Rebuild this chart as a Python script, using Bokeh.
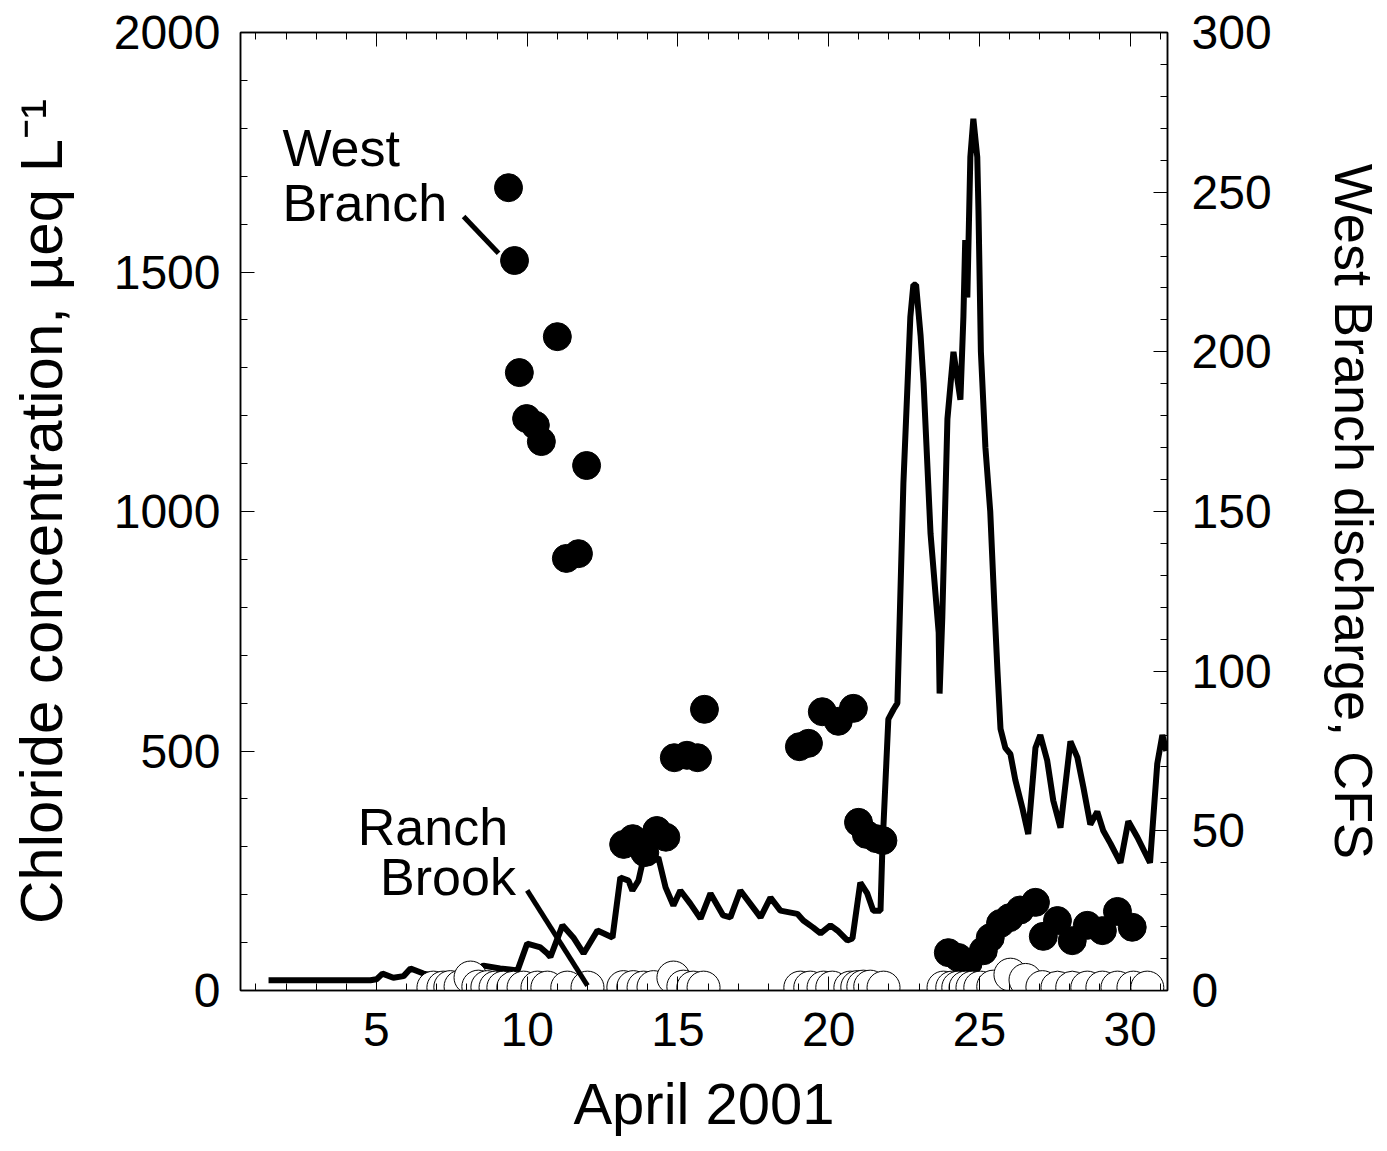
from bokeh.plotting import figure
from bokeh.models import Range1d, LinearAxis, SingleIntervalTicker, Label
from bokeh.embed import file_html
from bokeh.resources import INLINE

# West Branch discharge (CFS), day of April 2001
q_day = [1.42, 4.8, 5.0, 5.2, 5.56, 5.9, 6.13, 6.56, 7.0, 7.5, 8.0, 8.55, 9.1, 9.68,
         10.0, 10.44, 10.67, 10.77, 11.17, 11.53, 11.87, 12.33, 12.83, 13.09, 13.36,
         13.49, 13.69, 13.82, 14.1, 14.35, 14.59, 14.85, 15.08, 15.41, 15.75, 16.08,
         16.5, 16.74, 17.07, 17.74, 18.07, 18.4, 18.96, 19.16, 19.49, 19.73, 20.06,
         20.29, 20.62, 20.79, 21.05, 21.28, 21.48, 21.72, 21.78, 21.98, 22.15, 22.28,
         22.48, 22.71, 22.81, 22.9, 23.05, 23.15, 23.38, 23.65, 23.68, 23.77, 23.94,
         24.14, 24.37, 24.47, 24.53, 24.6, 24.7, 24.8, 24.93, 24.97, 25.05, 25.2,
         25.36, 25.5, 25.6, 25.7, 25.86, 26.03, 26.19, 26.43, 26.62, 26.86, 27.02,
         27.25, 27.45, 27.69, 28.02, 28.25, 28.45, 28.68, 28.91, 29.11, 29.35, 29.68,
         29.94, 30.24, 30.66, 30.9, 31.07, 31.2]
q_cfs = [3.2, 3.2, 3.5, 5.3, 4.0, 4.5, 6.9, 5.3, 4.5, 4.2, 4.5, 7.8, 6.9, 6.3,
         14.7, 13.5, 11.6, 10.5, 20.4, 16.6, 11.6, 18.8, 16.6, 35.4, 34.4,
         31.3, 34.4, 39.8, 40.0, 41.7, 32.3, 26.6, 31.3, 27.2, 22.5, 30.4,
         23.5, 22.9, 31.3, 22.9, 29.1, 25.0, 24.0, 21.9, 19.7, 17.9, 20.4,
         18.8, 15.7, 16.3, 33.8, 30.4, 25.0, 25.0, 43.8, 85.0, 88.0, 90.0,
         159.0, 211.0, 221.0, 221.0, 205.0, 190.0, 143.0, 112.0, 93.0, 117.0, 179.0,
         200.0, 185.0, 211.0, 235.0, 217.0, 261.0, 273.0, 261.0, 244.0, 200.0, 170.0,
         150.0, 120.0, 100.0, 82.0, 76.0, 74.0, 66.0, 57.0, 49.0, 76.0, 80.0,
         72.0, 59.5, 51.0, 78.0, 73.0, 63.6, 52.0, 56.0, 50.0, 46.0, 40.0,
         53.0, 48.0, 40.0, 71.0, 80.0, 75.0]

# West Branch chloride (ueq/L)
wb_day = [9.38, 9.58, 9.74, 9.98, 10.27, 10.47, 11.0, 11.30, 11.70, 11.97,
          13.2, 13.5, 13.9, 14.3, 14.6, 14.88, 15.3, 15.65, 15.88,
          19.03, 19.33, 19.79, 20.32, 20.82, 20.99, 21.25, 21.58, 21.8,
          23.97, 24.3, 24.63, 25.13, 25.36, 25.7, 26.0, 26.35, 26.86,
          27.12, 27.59, 28.08, 28.58, 29.08, 29.58, 30.07]
wb_cl = [1676, 1524, 1290, 1194, 1180, 1146, 1365, 902, 912, 1096,
         305, 317, 288, 334, 320, 486, 491, 486, 587,
         509, 516, 582, 562, 589, 351, 326, 317, 313,
         79, 69, 58, 83, 110, 140, 152, 168, 184,
         113, 146, 104, 136, 125, 165, 132]

# Ranch Brook chloride (ueq/L)
rb_day = [6.89, 7.22, 7.45, 7.79, 8.12, 8.38, 8.68, 8.95, 9.21, 9.54, 9.88, 10.34,
          10.67, 11.33, 12.0, 13.19, 13.52, 13.86, 14.19, 14.85, 15.18, 15.51, 15.85,
          19.06, 19.39, 19.83, 20.12, 20.72, 20.95, 21.15, 21.38, 21.82,
          23.81, 24.10, 24.30, 24.54, 24.77, 25.03, 25.46, 26.03, 26.53,
          27.09, 27.59, 28.08, 28.58, 29.08, 29.58, 30.11, 30.57]
rb_cl = [6, 6, 7, 8, 27, 8, 7, 6, 6, 6, 6, 6,
         6, 6, 6, 7, 7, 6, 7, 27, 8, 6, 6,
         6, 6, 6, 6, 6, 7, 8, 8, 6,
         6, 6, 6, 6, 6, 6, 8, 33, 22,
         7, 6, 6, 6, 6, 6, 6, 6]

FONT = "Liberation Sans"

p = figure(width=1386, height=1150, output_backend="svg", toolbar_location=None,
           x_range=Range1d(0.49, 31.24), y_range=Range1d(0, 2000),
           min_border_left=240, min_border_right=219, min_border_top=32,
           min_border_bottom=160)
p.extra_y_ranges = {"q": Range1d(0, 300)}
p.grid.visible = False
p.outline_line_color = "black"
p.outline_line_width = 1.5
p.background_fill_color = "white"
p.border_fill_color = "white"

p.line(q_day, q_cfs, y_range_name="q", line_width=6, line_color="black")
p.scatter(wb_day, wb_cl, size=28, fill_color="black", line_color="black")
p.scatter(rb_day, rb_cl, size=33, fill_color="white", line_color="black", line_width=1)


def style(ax, show_labels=True):
    ax.axis_line_color = "black"
    ax.axis_line_width = 1.5
    ax.major_tick_in = 14
    ax.major_tick_out = 0
    ax.minor_tick_in = 7
    ax.minor_tick_out = 0
    ax.major_tick_line_color = "black"
    ax.minor_tick_line_color = "black"
    ax.major_label_text_font = FONT
    ax.major_label_text_font_size = "48px"
    ax.major_label_text_color = "black" if show_labels else None
    ax.axis_label_text_font = FONT
    ax.axis_label_text_font_style = "normal"
    ax.axis_label_text_color = "black"


xax = p.xaxis[0]
xax.ticker = SingleIntervalTicker(interval=5, num_minor_ticks=5)
xax.axis_label = "April 2001"
style(xax)
xax.axis_label_text_font_size = "58px"
xax.major_label_standoff = 22
xax.axis_label_standoff = 22

yax = p.yaxis[0]
yax.ticker = SingleIntervalTicker(interval=500, num_minor_ticks=5)
yax.axis_label = "Chloride concentration, µeq L⁻¹"
style(yax)
yax.axis_label_text_font_size = "60px"
yax.major_label_standoff = 20
yax.axis_label_standoff = 36

top = LinearAxis(ticker=SingleIntervalTicker(interval=5, num_minor_ticks=5))
style(top, show_labels=False)
top.major_label_text_font_size = "1px"
p.add_layout(top, "above")

right = LinearAxis(y_range_name="q", ticker=SingleIntervalTicker(interval=50, num_minor_ticks=5),
                   axis_label="West Branch discharge, CFS")
style(right)
right.axis_label_text_font_size = "54px"
right.major_label_standoff = 24
right.axis_label_standoff = 49
p.add_layout(right, "right")

# annotations
for txt, x, y in [("West", 1.88, 1758), ("Branch", 1.88, 1645),
                  ("Ranch", 4.38, 342), ("Brook", 5.12, 236)]:
    p.add_layout(Label(x=x, y=y, text=txt, text_font=FONT, text_font_size="52px",
                       text_color="black", text_baseline="alphabetic"))

p.line([7.89, 9.05], [1616, 1539], line_width=5, line_color="black")
p.line([10.0, 12.0], [209, 10], line_width=5, line_color="black")

open("out.html", "w").write(file_html(p, INLINE))
